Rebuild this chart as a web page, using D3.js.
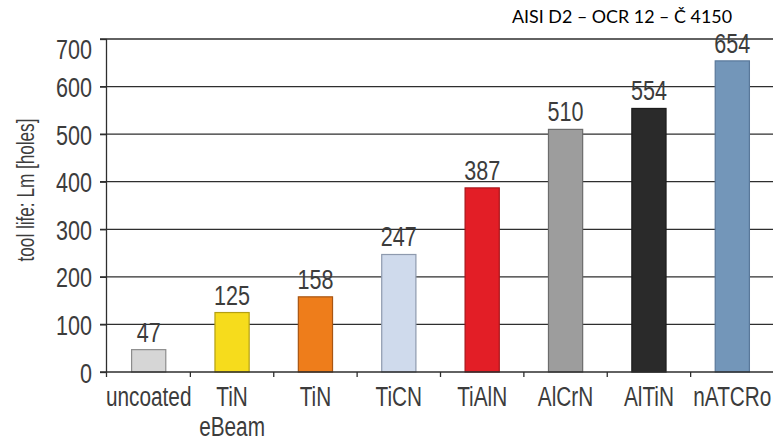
<!DOCTYPE html>
<html>
<head>
<meta charset="utf-8">
<script src="https://cdn.jsdelivr.net/npm/d3@7"></script>
<style>
  html, body { margin: 0; padding: 0; background: #fff; }
  svg { display: block; }
  .cond { font-family: "Liberation Sans", Arial, sans-serif; fill: #3c3c3c; }
</style>
</head>
<body>
<div id="chart"></div>
<script>
// Tool life per coating (holes drilled)
const coatings = ["uncoated", "TiN\neBeam", "TiN", "TiCN", "TiAlN", "AlCrN", "AlTiN", "nATCRo"];
const toolLife = [47, 125, 158, 247, 387, 510, 554, 654];
const barFills = ["#d6d6d6", "#f6dc1c", "#ee7d1b", "#cfdaec", "#e31e26", "#9d9d9d", "#2a2a2a", "#7396b9"];
const barStrokes = ["#8c8c8c", "#b49f12", "#a85512", "#8e9aae", "#a81519", "#6c6c6c", "#1c1c1c", "#59789a"];
const yTicks = [0, 100, 200, 300, 400, 500, 600, 700];
const chartTitle = "AISI D2 \u2013 OCR 12 \u2013 \u010C 4150";
const yTitle = "tool life: Lm [holes]";

const W = 773, H = 442;
const plotLeft = 107, plotRight = 774, plotTop = 39, plotBottom = 372;
const NARROW = 0.77;   // horizontal squeeze for the condensed lettering

const svg = d3.select("#chart").append("svg").attr("width", W).attr("height", H);

const x = d3.scaleBand().domain(coatings).range([plotLeft, plotRight]).paddingInner(0.59).paddingOuter(0.295);
const y = d3.scaleLinear().domain([0, 700]).range([plotBottom, plotTop]);

// condensed text anchored at (px, py)
function narrowText(parent, px, py, size, anchor, squeeze = NARROW) {
  return parent.append("g").attr("transform", `translate(${px},${py})`)
    .append("text").attr("class", "cond")
    .attr("transform", `scale(${squeeze},1)`)
    .attr("font-size", size)
    .attr("text-anchor", anchor);
}

// horizontal grid lines (drawn under the bars)
svg.append("g").selectAll("line").data(yTicks.slice(1)).join("line")
  .attr("x1", 100).attr("x2", W)
  .attr("y1", d => y(d)).attr("y2", d => y(d))
  .attr("stroke", "#2e2e2e").attr("stroke-width", 1.3);

// y axis small ticks and labels (the top label sits just under its line)
const yAxis = svg.append("g").attr("transform", `translate(${plotLeft},0)`)
  .call(d3.axisLeft(y).tickValues(yTicks).tickSize(7).tickPadding(8));
yAxis.select(".domain").remove();
yAxis.selectAll("line").attr("stroke", "#2e2e2e").attr("stroke-width", 1.3);
yAxis.selectAll("text")
  .attr("class", "cond")
  .attr("font-size", 28)
  .attr("x", -15 / NARROW)
  .attr("transform", `scale(${NARROW},1)`)
  .attr("dy", d => d === 700 ? "0.68em" : "0.36em");

// bars
svg.append("g").selectAll("rect").data(toolLife).join("rect")
  .attr("x", (d, i) => x(coatings[i]))
  .attr("y", d => y(d))
  .attr("width", x.bandwidth())
  .attr("height", d => y(0) - y(d))
  .attr("fill", (d, i) => barFills[i])
  .attr("stroke", (d, i) => barStrokes[i])
  .attr("stroke-width", 1.2);

// value labels above the bars
const valueLayer = svg.append("g");
toolLife.forEach((v, i) => {
  narrowText(valueLayer, x(coatings[i]) + x.bandwidth() / 2, y(v) - 8, 28, "middle").text(v);
});

// vertical axis line
svg.append("line").attr("x1", plotLeft - 0.5).attr("x2", plotLeft - 0.5).attr("y1", plotTop).attr("y2", plotBottom + 5)
  .attr("stroke", "#2e2e2e").attr("stroke-width", 1.3);

// x axis baseline and category boundary ticks
svg.append("line").attr("x1", 100).attr("x2", W).attr("y1", plotBottom).attr("y2", plotBottom)
  .attr("stroke", "#2e2e2e").attr("stroke-width", 1.3);
const step = x.step();
svg.append("g").selectAll("line").data(coatings.slice(1)).join("line")
  .attr("x1", d => x(d) - x.paddingOuter() * step).attr("x2", d => x(d) - x.paddingOuter() * step)
  .attr("y1", plotBottom).attr("y2", plotBottom + 5)
  .attr("stroke", "#2e2e2e").attr("stroke-width", 1.3);

// category labels (may wrap onto a second line)
const catLayer = svg.append("g");
coatings.forEach(c => {
  const t = narrowText(catLayer, x(c) + x.bandwidth() / 2, 406, 27, "middle");
  t.selectAll("tspan").data(c.split("\n")).join("tspan")
    .attr("x", 0)
    .attr("dy", (l, i) => i === 0 ? 0 : 30)
    .text(l => l);
});

// y axis title
narrowText(svg.append("g").attr("transform", "translate(34,190) rotate(-90)"), 0, 0, 24.5, "middle", 0.70)
  .text(yTitle);

// chart title
svg.append("text")
  .attr("x", 512).attr("y", 23)
  .attr("font-family", "Lato, 'Open Sans', sans-serif")
  .attr("font-size", 18)
  .attr("textLength", 220)
  .attr("lengthAdjust", "spacingAndGlyphs")
  .attr("fill", "#000")
  .text(chartTitle);
</script>
</body>
</html>
